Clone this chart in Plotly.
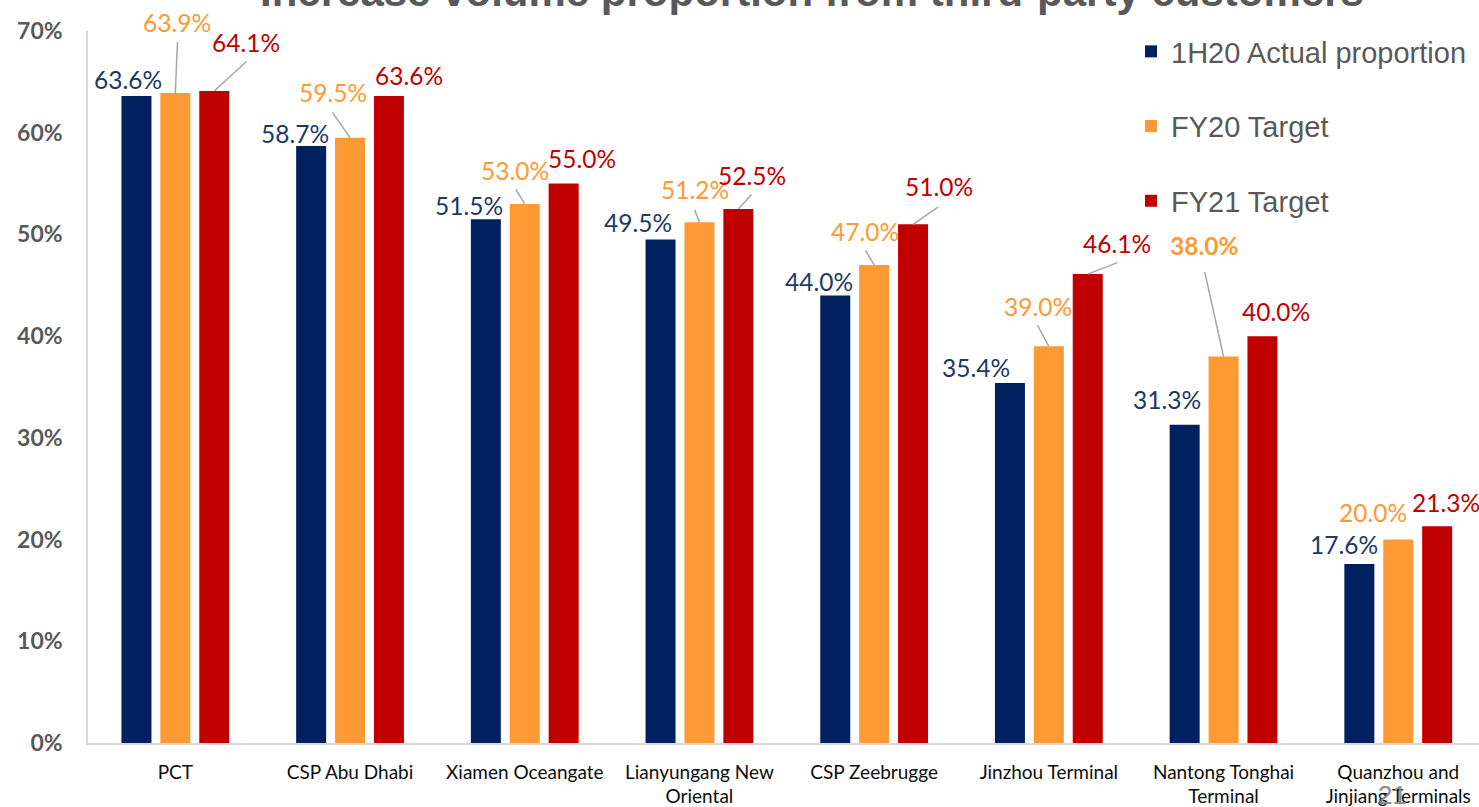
import plotly.graph_objects as go

categories = ["PCT", "CSP Abu Dhabi", "Xiamen Oceangate", "Lianyungang New<br>Oriental",
              "CSP Zeebrugge", "Jinzhou Terminal", "Nantong Tonghai<br>Terminal",
              "Quanzhou and<br>Jinjiang Terminals"]
series_names = ["1H20 Actual proportion", "FY20 Target", "FY21 Target"]
actual_1h20 = [63.6, 58.7, 51.5, 49.5, 44.0, 35.4, 31.3, 17.6]
target_fy20 = [63.9, 59.5, 53.0, 51.2, 47.0, 39.0, 38.0, 20.0]
target_fy21 = [64.1, 63.6, 55.0, 52.5, 51.0, 46.1, 40.0, 21.3]
y_ticks = [0, 10, 20, 30, 40, 50, 60, 70]
y_tick_labels = ["0%", "10%", "20%", "30%", "40%", "50%", "60%", "70%"]
title_text = "Increase volume proportion from third-party customers"
page_number = "21"

# styling / label placement (pixel offsets from bar top centre; dy positive = up)
bar_colors = ["#002060", "#FF9933", "#C00000"]
label_colors = ["#1F3864", "#FF9933", "#C00000"]
label_dx = [
    [-8, -16, -17, -23, -16.5, -34, -18, -15],
    [2, -17, -9.5, -4.5, -9.5, -11, -19, -25.5],
    [31.5, 20, 18.5, 14, 25.5, 29.5, 14, 8.5],
]
label_dy = [
    [17, 12, 14, 17, 14, 15, 25, 19],
    [71, 45, 33.4, 33, 33.5, 40, 111, 27],
    [48.5, 21, 25, 33.5, 38, 31, 24.5, 23.5],
]
bold_labels = {(1, 6)}
# leader lines: (series, category, start dx, start dy) -> ends at bar top centre
leaders = [
    (1, 0, 2.1, 50.9), (2, 0, 32.2, 29.5),
    (1, 1, -17.6, 25.4),
    (1, 2, -9, 14.4),
    (1, 3, -4.7, 12.1), (2, 3, 13.1, 14.5),
    (1, 4, -8.7, 14.6), (2, 4, 25, 17.1),
    (1, 5, -11.4, 21.2), (2, 5, 29.7, 11.5),
    (1, 6, -18.8, 84.7),
]

W, H = 1479, 807
ML, MT, MB = 88, 31, 62
bargap = 0.332
bargroupgap = 0.229
slot = (1 - bargap) / 3

all_series = [actual_1h20, target_fy20, target_fy21]
xs = list(range(len(categories)))

fig = go.Figure()
for k, (name, vals) in enumerate(zip(series_names, all_series)):
    fig.add_trace(go.Bar(
        x=xs, y=vals, name=name, legendgroup=name,
        marker=dict(color=bar_colors[k], line=dict(width=0)),
        hoverinfo="skip",
    ))

annotations = []
for k, vals in enumerate(all_series):
    for i, v in enumerate(vals):
        txt = f"{v:.1f}%"
        if (k, i) in bold_labels:
            txt = f"<b>{txt}</b>"
        annotations.append(dict(
            x=i + (k - 1) * slot, y=v, xref="x", yref="y",
            xshift=label_dx[k][i], yshift=label_dy[k][i],
            text=txt, showarrow=False, xanchor="center", yanchor="middle",
            font=dict(family="Lato", size=24.5, color=label_colors[k]),
        ))

shapes = []
for k, i, sdx, sdy in leaders:
    v = all_series[k][i]
    shapes.append(dict(
        type="line", xref="x", yref="y",
        xsizemode="pixel", ysizemode="pixel",
        xanchor=i + (k - 1) * slot, yanchor=v,
        x0=sdx, y0=sdy, x1=0, y1=0,
        line=dict(color="#A6A6A6", width=1.5),
    ))

plot_w = W - ML
plot_h = H - MT - MB
annotations.append(dict(
    x=(812 - ML) / plot_w, y=1 + (MT + 9) / plot_h, xref="paper", yref="paper",
    text=f"<b>{title_text}</b>", showarrow=False, xanchor="center", yanchor="middle",
    font=dict(family="Liberation Sans", size=42, color="#595959"),
))
annotations.append(dict(
    x=(1392 - ML) / plot_w, y=-(797 - 745) / plot_h, xref="paper", yref="paper",
    text=page_number, showarrow=False, xanchor="center", yanchor="middle",
    font=dict(family="Liberation Sans", size=26, color="#8C8C8C"),
))

fig.update_layout(
    width=W, height=H, autosize=False,
    margin=dict(l=ML, r=0, t=MT, b=MB, pad=0),
    paper_bgcolor="white", plot_bgcolor="white",
    barmode="group", bargap=bargap, bargroupgap=bargroupgap,
    annotations=annotations, shapes=shapes,
    showlegend=True,
    legend=dict(
        x=(1131 - ML) / plot_w, y=1 - (26 - MT) / plot_h, xanchor="left", yanchor="top",
        font=dict(family="Liberation Sans", size=29, color="#595959"),
        bgcolor="rgba(0,0,0,0)", tracegroupgap=34, traceorder="grouped",
    ),
    xaxis=dict(
        range=[-0.5, -0.5 + plot_w / 174.7], tickvals=xs, ticktext=categories,
        showline=True, linecolor="#D9D9D9", linewidth=1.5, showgrid=False,
        zeroline=False, ticks="", tickangle=0, ticklabelstandoff=11,
        tickfont=dict(family="Lato", size=19, color="#0D0D0D"),
    ),
    yaxis=dict(
        range=[0, 70], tickvals=y_ticks, ticktext=y_tick_labels,
        showline=True, linecolor="#D9D9D9", linewidth=1.5, showgrid=False,
        zeroline=False, ticks="", ticklabelstandoff=19,
        tickfont=dict(family="Lato", size=23, color="#595959", weight="bold"),
    ),
)

fig.write_html("out.html")
